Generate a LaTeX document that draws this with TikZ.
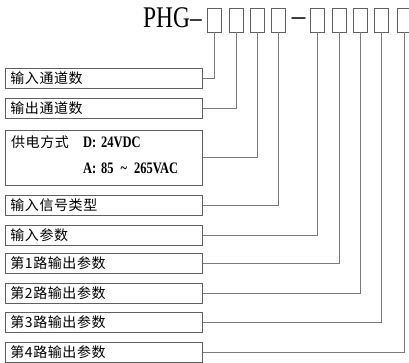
\documentclass[tikz,border=0pt]{standalone}
\usepackage{fontspec}
\usepackage{graphicx}
\setmainfont{Liberation Serif}
\newfontfamily\cjk[LetterSpace=4]{Noto Sans CJK SC}
\definecolor{boxgray}{HTML}{606060}
\definecolor{linegray}{HTML}{7A7A7A}
\tikzset{
  lbox/.style={draw=boxgray, line width=0.9pt, anchor=west, minimum width=197pt, minimum height=20pt, text width=187pt, inner xsep=5pt, inner ysep=0pt, align=left, font=\cjk\fontsize{14}{16}\selectfont},
  tbox/.style={draw=boxgray, line width=0.8pt, minimum width=14pt, minimum height=24pt, inner sep=0pt},
  conn/.style={draw=linegray, line width=0.9pt},
  lat/.style={anchor=west, inner sep=0pt, font=\bfseries\fontsize{16}{18}\selectfont},
}
\begin{document}
\begin{tikzpicture}[x=1pt,y=-1pt]
\useasboundingbox (0,0) rectangle (409,363);
% title
\node[anchor=base west, inner sep=0pt] (title) at (143,28) {\scalebox{0.78}[1]{\fontsize{30}{30}\selectfont PHG–}};
\node[inner sep=0pt] (mdash) at (298.5,22) {\scalebox{0.9}[1]{\fontsize{30}{30}\selectfont –}};
% top placeholder boxes
\node[tbox] (t1) at (214,20) {};
\node[tbox] (t2) at (236,20) {};
\node[tbox] (t3) at (257,20) {};
\node[tbox] (t4) at (278,20) {};
\node[tbox] (t5) at (317,20) {};
\node[tbox] (t6) at (339,20) {};
\node[tbox] (t7) at (360,20) {};
\node[tbox] (t8) at (381,20) {};
\node[tbox] (t9) at (404,20) {};
% left boxes
\node[lbox] (b1) at (5,78) {输入通道数};
\node[lbox] (b2) at (5,108) {输出通道数};
\node[lbox, minimum height=55pt] (b3) at (5,157.5) {};
\node[anchor=west, inner sep=0pt, font=\cjk\fontsize{14}{16}\selectfont] (b3a) at (11,142) {供电方式};
\node[lat] (b3b) at (83,142) {\scalebox{0.78}[1]{D:\hspace{2pt} 24VDC}};
\node[lat] (b3c) at (83,168) {\scalebox{0.78}[1]{A:\hspace{2pt} 85\hspace{5pt} \textasciitilde\hspace{5pt} 265VAC}};
\node[lbox] (b4) at (5,205) {输入信号类型};
\node[lbox] (b5) at (5,235.5) {输入参数};
\node[lbox] (b6) at (5,263.5) {第1路输出参数};
\node[lbox] (b7) at (5,293) {第2路输出参数};
\node[lbox] (b8) at (5,322) {第3路输出参数};
\node[lbox] (b9) at (5,352) {第4路输出参数};
% connectors
\draw[conn] (t1.south) |- (b1.east);
\draw[conn] (t2.south) |- (b2.east);
\draw[conn] (t3.south) |- (b3.east);
\draw[conn] (t4.south) |- (b4.east);
\draw[conn] (t5.south) |- (b5.east);
\draw[conn] (t6.south) |- (b6.east);
\draw[conn] (t7.south) |- (b7.east);
\draw[conn] (t8.south) |- (b8.east);
\draw[conn] (t9.south) |- (b9.east);
\end{tikzpicture}
\end{document}
